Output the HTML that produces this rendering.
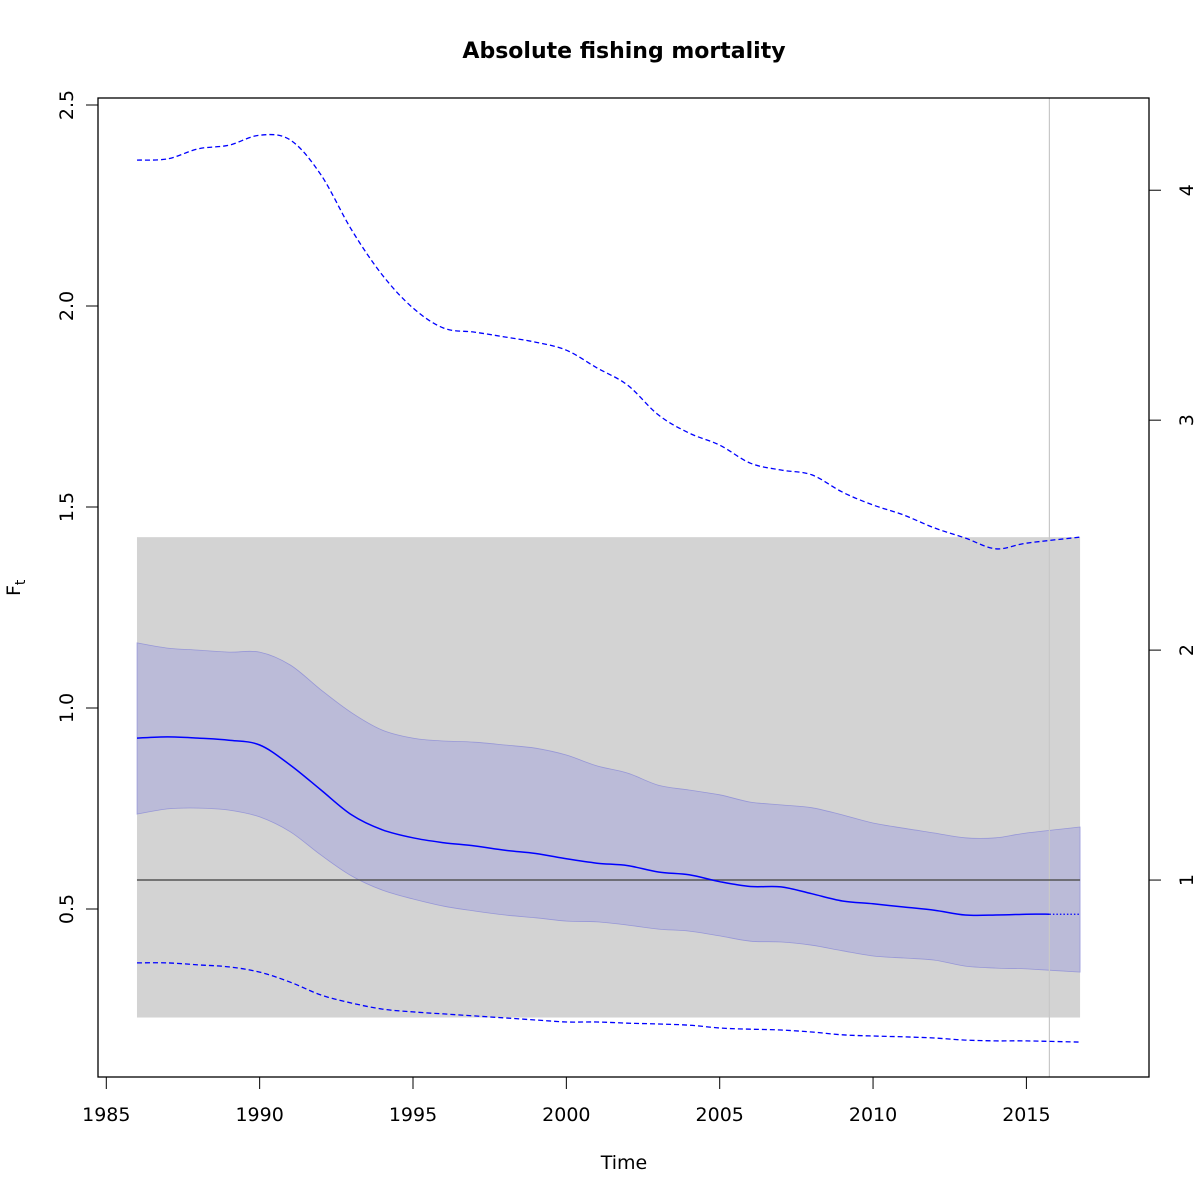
<!DOCTYPE html>
<html><head><meta charset="utf-8"><style>
html,body{margin:0;padding:0;background:#fff;}
svg{display:block;font-family:"DejaVu Sans","Liberation Sans",sans-serif;}
</style></head><body>
<svg id="chart" width="1200" height="1200" viewBox="0 0 1200 1200">
<text x="624" y="58" text-anchor="middle" font-size="22" font-weight="bold">Absolute fishing mortality</text>
<text x="624" y="1169" text-anchor="middle" font-size="19">Time</text>
<text transform="translate(20,596) rotate(-90)" font-size="19">F<tspan font-size="14" dy="5">t</tspan></text>
<g id="marks"></g>
<rect x="98" y="98" width="1051" height="979" fill="none" stroke="#000" stroke-width="1.3"/>
<g id="axes"></g>
</svg>
<script>
const years = [1986,1987,1988,1989,1990,1991,1992,1993,1994,1995,1996,1997,1998,1999,2000,2001,2002,2003,2004,2005,2006,2007,2008,2009,2010,2011,2012,2013,2014,2015,2016.75];
const meanF = [0.925,0.928,0.925,0.920,0.908,0.858,0.796,0.734,0.697,0.677,0.665,0.657,0.646,0.638,0.625,0.614,0.608,0.592,0.585,0.568,0.556,0.555,0.538,0.520,0.513,0.505,0.497,0.485,0.485,0.487,0.487];
const upperCI = [1.162,1.149,1.144,1.139,1.139,1.107,1.045,0.988,0.945,0.925,0.918,0.915,0.908,0.900,0.883,0.856,0.838,0.808,0.796,0.784,0.766,0.759,0.752,0.734,0.714,0.701,0.689,0.677,0.677,0.689,0.704];
const lowerCI = [0.736,0.749,0.751,0.746,0.729,0.692,0.634,0.582,0.547,0.525,0.507,0.495,0.485,0.478,0.470,0.468,0.460,0.450,0.445,0.433,0.420,0.418,0.410,0.396,0.383,0.378,0.373,0.358,0.353,0.351,0.343];
const upperDash = [2.363,2.366,2.391,2.400,2.425,2.413,2.326,2.189,2.077,1.995,1.945,1.935,1.923,1.910,1.890,1.846,1.803,1.729,1.684,1.654,1.609,1.592,1.580,1.537,1.505,1.480,1.448,1.423,1.396,1.410,1.425];
const lowerDash = [0.366,0.366,0.361,0.356,0.343,0.318,0.286,0.266,0.251,0.244,0.239,0.234,0.229,0.224,0.219,0.219,0.216,0.214,0.211,0.204,0.201,0.199,0.194,0.187,0.184,0.182,0.179,0.174,0.172,0.172,0.169];
const Fmsy = 0.572;
const shadeRange = [1986, 2016.75, 0.23, 1.425];
const lastDataYear = 2015.75;
const xTicks = [1985,1990,1995,2000,2005,2010,2015];
const yTicks = [0.5,1.0,1.5,2.0,2.5];
const yTickLabels = ["0.5","1.0","1.5","2.0","2.5"];
const rTicks = [1,2,3,4];

const NS="http://www.w3.org/2000/svg";
const X = t => 106.3 + (t-1985)*30.67;
const Y = v => 909 - (v-0.5)*402;
function el(tag, attrs, parent){const e=document.createElementNS(NS,tag);for(const k in attrs)e.setAttribute(k,attrs[k]);parent.appendChild(e);return e;}
function smooth(pts){
  let d="M"+pts[0][0].toFixed(1)+","+pts[0][1].toFixed(1);
  for(let i=0;i<pts.length-1;i++){
    const p0=pts[Math.max(0,i-1)],p1=pts[i],p2=pts[i+1],p3=pts[Math.min(pts.length-1,i+2)];
    const c1=[p1[0]+(p2[0]-p0[0])/6,p1[1]+(p2[1]-p0[1])/6];
    const c2=[p2[0]-(p3[0]-p1[0])/6,p2[1]-(p3[1]-p1[1])/6];
    d+=" C"+c1[0].toFixed(1)+","+c1[1].toFixed(1)+" "+c2[0].toFixed(1)+","+c2[1].toFixed(1)+" "+p2[0].toFixed(1)+","+p2[1].toFixed(1);
  }
  return d;
}
const pts = arr => years.map((t,i)=>[X(t),Y(arr[i])]);
const marks=document.getElementById('marks');
const axes=document.getElementById('axes');

const shade=el('rect',{x:X(shadeRange[0]),y:Y(shadeRange[3]),width:X(shadeRange[1])-X(shadeRange[0]),height:Y(shadeRange[2])-Y(shadeRange[3]),fill:'#d3d3d3'},marks);



const up=pts(upperCI), lo=pts(lowerCI).reverse();
let bandD=smooth(up)+" L"+lo[0][0].toFixed(1)+","+lo[0][1].toFixed(1)+smooth(lo).replace(/^M[^C]*/,' ')+" Z";
const band=el('path',{d:bandD,fill:'#bbbbd8',stroke:'rgba(120,120,215,0.6)','stroke-width':0.8},marks);



const vline=el('line',{x1:X(lastDataYear),x2:X(lastDataYear),y1:98,y2:1077,stroke:'#c8c8c8','stroke-width':1.2},marks);



const hline=el('line',{x1:X(shadeRange[0]),x2:X(shadeRange[1]),y1:Y(Fmsy),y2:Y(Fmsy),stroke:'#555','stroke-width':1.5},marks);



const ud=el('path',{d:smooth(pts(upperDash)),fill:'none',stroke:'#0000ff','stroke-width':1.3,'stroke-dasharray':'5,3'},marks);


const ld=el('path',{d:smooth(pts(lowerDash)),fill:'none',stroke:'#0000ff','stroke-width':1.3,'stroke-dasharray':'5,3'},marks);



const mp=pts(meanF);
const solidPts=mp.slice(0,mp.length-1).concat([[X(lastDataYear),Y(meanF[meanF.length-1])]]);
const ml=el('path',{d:smooth(solidPts),fill:'none',stroke:'#0000ff','stroke-width':1.5},marks);


const pl=el('line',{x1:X(lastDataYear),y1:Y(meanF[meanF.length-1]),x2:mp[mp.length-1][0],y2:mp[mp.length-1][1],stroke:'#0000ff','stroke-width':1.3,'stroke-dasharray':'1.5,2'},marks);



const xa=el('line',{x1:X(xTicks[0]),x2:X(xTicks[xTicks.length-1]),y1:1077,y2:1077,stroke:'#000'},axes);
xTicks.forEach(t=>{
  const tk=el('line',{x1:X(t),x2:X(t),y1:1077,y2:1089,stroke:'#000'},axes);
  
  
  const tx=el('text',{x:X(t),y:1121,'text-anchor':'middle','font-size':19},axes);
  tx.textContent=t;
  
  
});
yTicks.forEach((v,i)=>{
  const tk=el('line',{x1:86,x2:98,y1:Y(v),y2:Y(v),stroke:'#000'},axes);
  
  
  const tx=el('text',{transform:`translate(73,${Y(v)}) rotate(-90)`,'text-anchor':'middle','font-size':19},axes);
  tx.textContent=yTickLabels[i];
  
  
});
rTicks.forEach(r=>{
  const y=Y(r*Fmsy);
  const tk=el('line',{x1:1149,x2:1161,y1:y,y2:y,stroke:'#000'},axes);
  
  
  const tx=el('text',{transform:`translate(1193,${y}) rotate(-90)`,'text-anchor':'middle','font-size':19},axes);
  tx.textContent=r;
  
  
});
</script>
</body></html>
